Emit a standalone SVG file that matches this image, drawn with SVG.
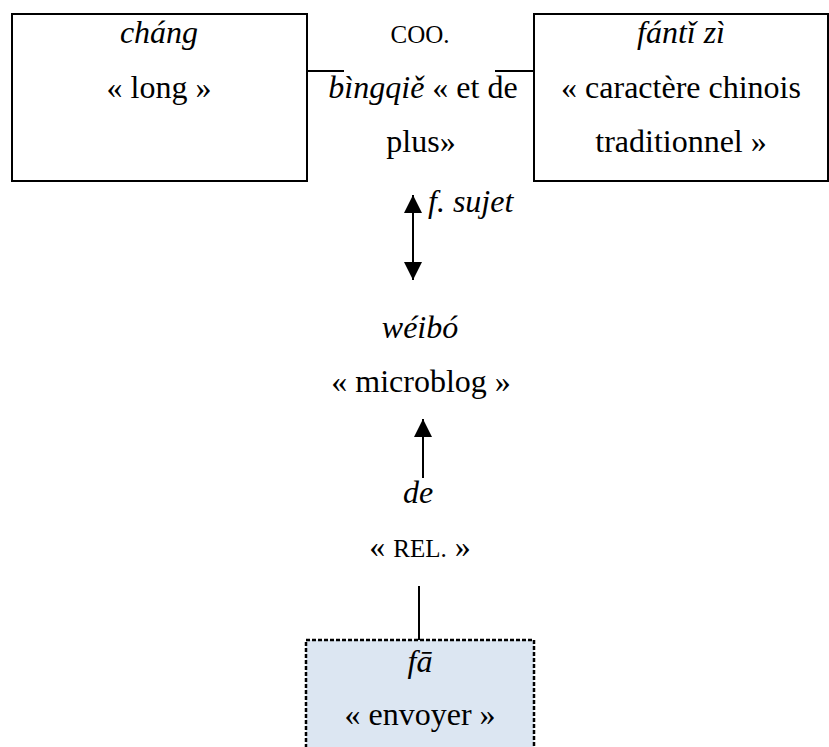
<svg xmlns="http://www.w3.org/2000/svg" width="829" height="747" viewBox="0 0 829 747">
<style>
text{font-family:'Liberation Serif','Tinos','DejaVu Serif',serif;font-size:32px;fill:#000;text-anchor:middle}
.it{font-style:italic}
.sc{font-size:25px}
.box{fill:#fff;stroke:#000;stroke-width:2}
.dash{fill:#dce6f2;stroke:#000;stroke-width:2.5;stroke-dasharray:4 2}
.ln{stroke:#000;stroke-width:2;fill:none}
</style>
<defs>
<marker id="ah" viewBox="0 0 18 18" refX="18" refY="9" markerWidth="18" markerHeight="18" markerUnits="userSpaceOnUse" orient="auto-start-reverse">
<path d="M0,0 L18,9 L0,18 Z" fill="#000"/>
</marker>
</defs>
<rect width="829" height="747" fill="#fff"/>
<g id="connectors">
<line class="ln" x1="307" y1="71" x2="344" y2="71"/>
<line class="ln" x1="495" y1="71" x2="534" y2="71"/>
<line class="ln" x1="413" y1="195" x2="413" y2="280" marker-start="url(#ah)" marker-end="url(#ah)"/>
<line class="ln" x1="423" y1="419" x2="423" y2="478" marker-start="url(#ah)"/>
<line class="ln" x1="419" y1="586" x2="419" y2="640"/>
<text class="it" x="428" y="212" style="text-anchor:start">f. sujet</text>
</g>
<g id="n-chang">
<rect class="box" x="12" y="14" width="295" height="167"/>
<text class="it" x="159" y="43">cháng</text>
<text x="159" y="98">« long »</text>
</g>
<g id="n-coo">
<text class="sc" x="420" y="43">COO.</text>
<text x="423" y="98"><tspan class="it">bìngqiě</tspan> « et de</text>
<text x="421" y="152">plus»</text>
</g>
<g id="n-fantizi">
<rect class="box" x="534" y="14" width="294" height="167"/>
<text class="it" x="681" y="43">fántǐ zì</text>
<text x="681" y="98">« caractère chinois</text>
<text x="681" y="152">traditionnel »</text>
</g>
<g id="n-weibo">
<text class="it" x="420" y="338">wéibó</text>
<text x="421" y="392">« microblog »</text>
</g>
<g id="n-de">
<text class="it" x="418" y="503">de</text>
<text x="420" y="557">« <tspan class="sc">REL.</tspan> »</text>
</g>
<g id="n-fa">
<rect class="dash" x="306" y="640" width="228" height="120"/>
<text class="it" x="420" y="672">fā</text>
<text x="420" y="725">« envoyer »</text>
</g>
</svg>
